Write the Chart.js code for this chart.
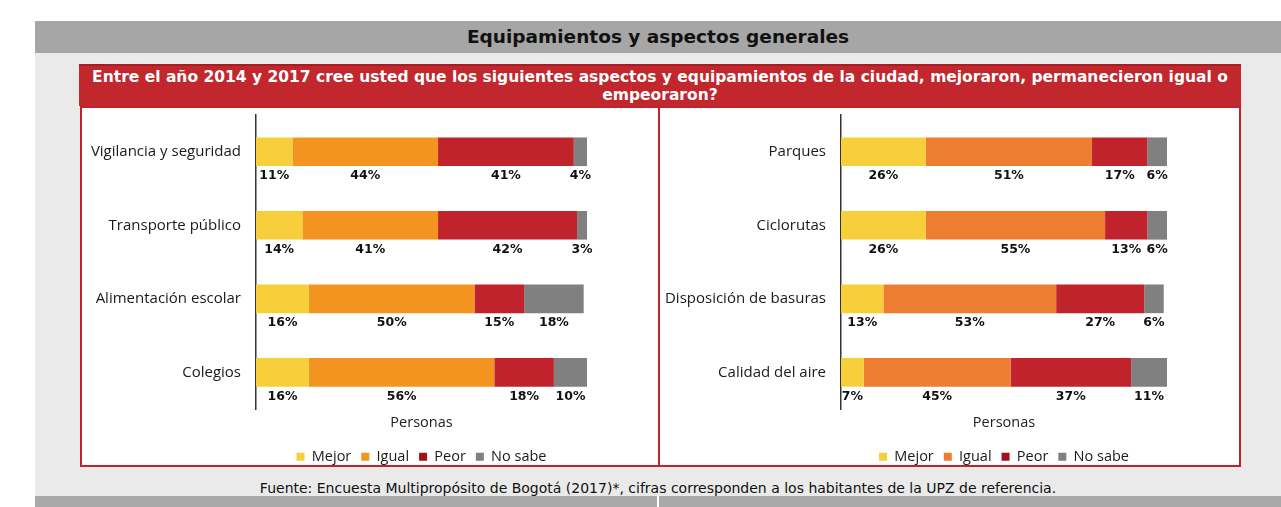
<!DOCTYPE html>
<html>
<head>
<meta charset="utf-8">
<script src="https://cdn.jsdelivr.net/npm/chart.js@4.4.1/dist/chart.umd.min.js"></script>
<style>
  body { margin: 0; width: 1281px; height: 507px; background: #fff; position: relative; overflow: hidden; font-family: "DejaVu Sans", sans-serif; }
  .abs { position: absolute; }
  #band { left: 35px; top: 21px; width: 1246px; height: 32px; background: #a6a6a6; text-align: center; font-weight: bold; font-size: 18.5px; line-height: 32px; color: #111; }
  #light { left: 35px; top: 53px; width: 1246px; height: 443px; background: #eaeaea; }
  #bottom { left: 35px; top: 496px; width: 1246px; height: 11px; background: #a9a9a9; }
  #sep { left: 657px; top: 496px; width: 2px; height: 11px; background: #fff; }
  #head { left: 79px; top: 64px; width: 1162px; height: 42px; background: #c1272d; border-top: 2px solid #a81d23; box-sizing: border-box; color: #fff; font-weight: bold; font-size: 15.5px; line-height: 18px; text-align: center; padding-top: 2px; white-space: nowrap; }
  .panel { top: 106px; height: 361px; background: #fff; border: 2px solid #c0232b; box-sizing: border-box; }
  .panel canvas { display: block; }
  #pl { left: 80px; width: 580px; }
  #pr { left: 658px; width: 583px; }
  #foot { left: 35px; top: 480px; width: 1246px; text-align: center; font-size: 14px; color: #111; white-space: nowrap; }
</style>
</head>
<body>
<div id="band" class="abs">Equipamientos y aspectos generales</div>
<div id="light" class="abs"></div>
<div id="bottom" class="abs"></div>
<div id="sep" class="abs"></div>
<div id="head" class="abs">Entre el año 2014 y 2017 cree usted que los siguientes aspectos y equipamientos de la ciudad, mejoraron, permanecieron igual o<br>empeoraron?</div>
<div id="pl" class="abs panel"><canvas id="chartLeft" width="576" height="368"></canvas></div>
<div id="pr" class="abs panel"><canvas id="chartRight" width="579" height="368"></canvas></div>
<div id="foot" class="abs">Fuente: Encuesta Multipropósito de Bogotá (2017)*, cifras corresponden a los habitantes de la UPZ de referencia.</div>

<script>
// datos
var seriesNames = ["Mejor", "Igual", "Peor", "No sabe"];
var axisTitle = "Personas";

var leftCategories = ["Vigilancia y seguridad", "Transporte público", "Alimentación escolar", "Colegios"];
var leftMejor = [11, 14, 16, 16];
var leftIgual = [44, 41, 50, 56];
var leftPeor = [41, 42, 15, 18];
var leftNoSabe = [4, 3, 18, 10];

var rightCategories = ["Parques", "Ciclorutas", "Disposición de basuras", "Calidad del aire"];
var rightMejor = [26, 26, 13, 7];
var rightIgual = [51, 55, 53, 45];
var rightPeor = [17, 13, 27, 37];
var rightNoSabe = [6, 6, 6, 11];

var leftColors = ["#f7cf3b", "#f39421", "#c0232b", "#808080"];
var rightColors = ["#f7cf3b", "#ed7d31", "#c0232b", "#808080"];
var legendColors = { 2: "#a3101a" };

// etiquetas de porcentaje debajo de cada segmento
var percentLabels = {
  id: "percentLabels",
  afterDatasetsDraw: function (chart) {
    var ctx = chart.ctx;
    ctx.save();
    ctx.font = "bold 12.5px 'DejaVu Sans'";
    ctx.fillStyle = "#111";
    ctx.textAlign = "center";
    ctx.textBaseline = "middle";
    chart.data.datasets.forEach(function (ds, i) {
      chart.getDatasetMeta(i).data.forEach(function (bar, j) {
        var p = bar.getProps(["x", "base", "y", "height"], true);
        ctx.fillText(ds.data[j] + "%", (p.x + p.base) / 2, p.y + p.height / 2 + 10);
      });
    });
    ctx.restore();
  }
};

function makeChart(id, categories, series, colors, yWidth, padRight) {
  var ctx = document.getElementById(id).getContext("2d");
  var font = { family: "'Open Sans'", size: 14.5 };

  var datasets = series.map(function (values, i) {
    return {
      label: seriesNames[i],
      data: values,
      backgroundColor: colors[i],
      barPercentage: 0.39,
      categoryPercentage: 1
    };
  });

  return new Chart(ctx, {
    type: "bar",
    data: { labels: categories, datasets: datasets },
    options: {
      indexAxis: "y",
      responsive: false,
      animation: false,
      layout: { padding: { top: 7, right: padRight, bottom: 2, left: 0 } },
      scales: {
        x: {
          stacked: true,
          min: 0,
          max: 100,
          grid: { display: false, drawTicks: false },
          border: { display: false },
          ticks: { display: false },
          title: { display: true, text: axisTitle, font: font, color: "#222", padding: { top: 5, bottom: 8 } }
        },
        y: {
          stacked: true,
          grid: { display: false, drawTicks: false },
          border: { display: true, color: "#333", width: 1.5 },
          ticks: { padding: 15, font: { family: "'Open Sans'", size: 15 }, color: "#1a1a1a" },
          afterFit: function (scale) {
            scale.width = yWidth;
            scale.paddingTop = 0;
            scale.paddingBottom = 0;
          }
        }
      },
      plugins: {
        legend: {
          position: "bottom",
          fullSize: false,
          labels: {
            boxWidth: 8,
            boxHeight: 8,
            padding: 10,
            font: font,
            color: "#1a1a1a",
            generateLabels: function (chart) {
              var items = Chart.defaults.plugins.legend.labels.generateLabels(chart);
              items.forEach(function (it, i) {
                if (legendColors[i]) it.fillStyle = legendColors[i];
                it.strokeStyle = it.fillStyle;
                it.lineWidth = 0;
              });
              return items;
            }
          }
        },
        tooltip: { enabled: false }
      }
    },
    plugins: [percentLabels]
  });
}

makeChart("chartLeft", leftCategories, [leftMejor, leftIgual, leftPeor, leftNoSabe], leftColors, 174, 71);
makeChart("chartRight", rightCategories, [rightMejor, rightIgual, rightPeor, rightNoSabe], rightColors, 181, 72);
</script>
</body>
</html>
